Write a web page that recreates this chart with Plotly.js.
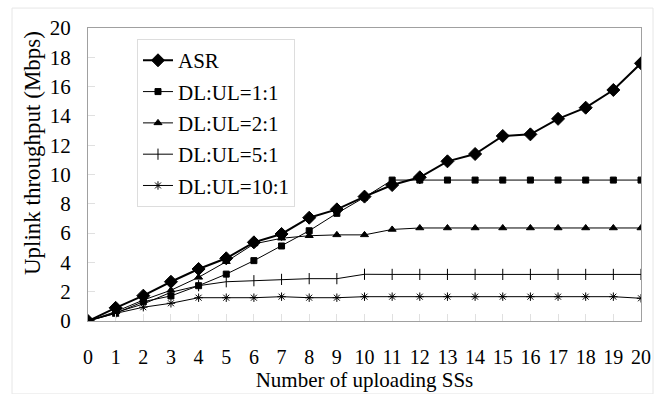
<!DOCTYPE html>
<html>
<head>
<meta charset="utf-8">
<script src="https://cdn.plot.ly/plotly-3.0.1.min.js"></script>
<style>html,body{margin:0;padding:0;background:#fff;}#chart{width:664px;height:394px;}</style>
</head>
<body>
<div id="chart"></div>
<script>
var ssCount = [0,1,2,3,4,5,6,7,8,9,10,11,12,13,14,15,16,17,18,19,20];
var asr =   [0,0.9,1.73,2.68,3.55,4.28,5.37,5.94,7.05,7.62,8.49,9.28,9.81,10.9,11.4,12.63,12.74,13.8,14.56,15.77,17.59];
var dl1to1 = [0,0.53,1.32,1.71,2.41,3.2,4.12,5.12,6.16,7.35,8.44,9.62,9.62,9.62,9.62,9.62,9.62,9.62,9.62,9.62,9.62];
var dl2to1 = [0,0.64,1.43,2.1,2.98,4.05,5.26,5.65,5.82,5.88,5.88,6.25,6.35,6.35,6.35,6.35,6.35,6.35,6.35,6.35,6.35];
var dl5to1 = [0,0.57,1.16,1.96,2.41,2.68,2.75,2.84,2.89,2.89,3.19,3.18,3.18,3.18,3.18,3.18,3.18,3.18,3.18,3.18,3.18];
var dl10to1 = [0,0.52,0.94,1.21,1.59,1.59,1.59,1.66,1.59,1.59,1.66,1.66,1.66,1.66,1.66,1.66,1.66,1.66,1.66,1.66,1.55];
var seriesNames = ['ASR','DL:UL=1:1','DL:UL=2:1','DL:UL=5:1','DL:UL=10:1'];
var xTickLabels = ssCount.map(String);
var yTitle = 'Uplink throughput (Mbps)';
var xTitle = 'Number of uploading SSs';

var FONT = 'Liberation Serif';
function tr(y, name, sym, msize, lw, group) {
  return {
    x: ssCount, y: y, name: name, type: 'scatter', mode: 'lines+markers',
    legendgroup: group,
    line: {color: '#000', width: lw},
    marker: {symbol: sym, size: msize, color: '#000', line: {color: '#000', width: 1}}
  };
}
var data = [
  tr(asr, seriesNames[0], 'diamond', 10, 2, 'g0'),
  tr(dl1to1, seriesNames[1], 'square', 6, 1, 'g1'),
  tr(dl2to1, seriesNames[2], 'triangle-up', 7, 1, 'g2'),
  tr(dl5to1, seriesNames[3], 'line-ns-open', 8, 1, 'g3'),
  tr(dl10to1, seriesNames[4], 'asterisk-open', 7, 1, 'g4')
];
var layout = {
  width: 664, height: 394,
  margin: {l: 88, r: 23, t: 28, b: 73},
  paper_bgcolor: '#fff', plot_bgcolor: '#fff',
  font: {family: FONT, size: 20, color: '#000'},
  showlegend: true,
  legend: {
    x: 0.0886, y: 0.962, xanchor: 'left', yanchor: 'top',
    bgcolor: '#fff', bordercolor: '#dddddd', borderwidth: 1,
    font: {family: FONT, size: 21, color: '#000'},
    traceorder: 'grouped', tracegroupgap: 1, itemwidth: 30
  },
  xaxis: {
    range: [0, 20], tickmode: 'array', tickvals: ssCount, ticktext: xTickLabels,
    showgrid: false, zeroline: false, showline: true, linecolor: '#a0a0a0', linewidth: 1, mirror: true,
    ticks: 'inside', ticklen: 7, tickcolor: '#e0e0e0', ticklabelstandoff: 18,
    tickfont: {family: FONT, size: 20, color: '#000'},
    title: {text: xTitle, font: {family: FONT, size: 21, color: '#000'}, standoff: 2}
  },
  yaxis: {
    range: [0, 20], tickmode: 'linear', tick0: 0, dtick: 2,
    showgrid: false, zeroline: false, showline: true, linecolor: '#a0a0a0', linewidth: 1, mirror: true,
    ticks: 'inside', ticklen: 7, tickcolor: '#e0e0e0', ticklabelstandoff: 12,
    tickfont: {family: FONT, size: 21, color: '#000'},
    title: {text: ''}
  },
  annotations: [{text: yTitle, xref: 'paper', yref: 'paper', x: -0.1, y: 0.572,
                 xanchor: 'center', yanchor: 'middle', textangle: -90, showarrow: false,
                 font: {family: FONT, size: 23, color: '#000'}}],
  shapes: [{type: 'rect', xref: 'paper', yref: 'paper', x0: -0.1374, x1: 1.0217, y0: -0.249, y1: 1.068,
            line: {color: '#e6e6e6', width: 1}, fillcolor: 'rgba(0,0,0,0)', layer: 'below'}]
};
Plotly.newPlot('chart', data, layout, {displayModeBar: false, staticPlot: true});
</script>
</body>
</html>
